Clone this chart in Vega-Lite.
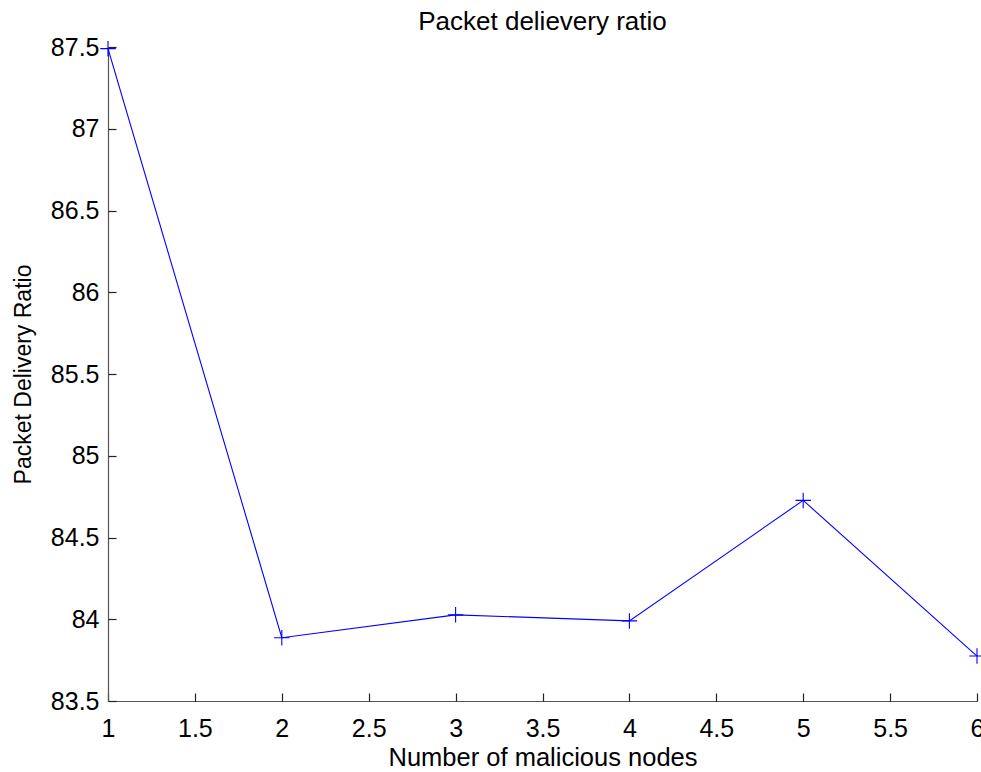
{
  "$schema": "https://vega.github.io/schema/vega-lite/v6.json",
  "autosize": "none",
  "width": 869,
  "height": 654,
  "padding": {"left": 108, "top": 47, "right": 4, "bottom": 71},
  "background": "white",
  "title": {
    "text": "Packet delievery ratio",
    "font": "Liberation Sans",
    "fontSize": 26,
    "fontWeight": "normal",
    "color": "black",
    "anchor": "middle",
    "offset": 0
  },
  "config": {
    "view": {"stroke": null},
    "axis": {
      "labelFont": "Liberation Sans",
      "titleFont": "Liberation Sans",
      "labelColor": "black",
      "titleColor": "black",
      "titleFontWeight": "normal",
      "domainColor": "#555555",
      "domainWidth": 1.2,
      "tickColor": "#222222",
      "tickWidth": 1.2,
      "grid": false
    }
  },
  "data": {
    "values": [
      {"nodes": 1, "pdr": 87.49},
      {"nodes": 2, "pdr": 83.887},
      {"nodes": 3, "pdr": 84.027},
      {"nodes": 4, "pdr": 83.99},
      {"nodes": 5, "pdr": 84.727},
      {"nodes": 6, "pdr": 83.775}
    ]
  },
  "resolve": {"axis": {"x": "independent", "y": "independent"}},
  "layer": [
    {
      "mark": {"type": "line", "color": "#0000ff", "strokeWidth": 1.1, "clip": false},
      "encoding": {
        "x": {
          "field": "nodes",
          "type": "quantitative",
          "scale": {"domain": [1, 6], "nice": false, "zero": false},
          "axis": {
            "orient": "bottom",
            "title": "Number of malicious nodes",
            "titleFontSize": 25.5,
            "labelFontSize": 25,
            "values": [1, 1.5, 2, 2.5, 3, 3.5, 4, 4.5, 5, 5.5, 6],
            "format": "~g",
            "ticks": false,
            "labelFlush": false,
            "labelOverlap": false,
            "labelPadding": 15,
            "titlePadding": 4
          }
        },
        "y": {
          "field": "pdr",
          "type": "quantitative",
          "scale": {"domain": [83.5, 87.5], "nice": false, "zero": false},
          "axis": {
            "orient": "left",
            "title": "Packet Delivery Ratio",
            "titleFontSize": 23,
            "labelFontSize": 25,
            "values": [83.5, 84, 84.5, 85, 85.5, 86, 86.5, 87, 87.5],
            "format": "~g",
            "ticks": false,
            "labelFlush": false,
            "labelOverlap": false,
            "labelPadding": 9,
            "titlePadding": 15
          }
        }
      }
    },
    {
      "mark": {
        "type": "point",
        "shape": "M-1,0L1,0M0,-1L0,1",
        "filled": false,
        "stroke": "#0000ff",
        "strokeWidth": 1.1,
        "size": 240,
        "opacity": 1,
        "clip": false
      },
      "encoding": {
        "x": {
          "field": "nodes",
          "type": "quantitative",
          "axis": {
            "orient": "bottom",
            "title": null,
            "labels": false,
            "domain": false,
            "ticks": true,
            "tickSize": 8,
            "offset": -8,
            "values": [1, 1.5, 2, 2.5, 3, 3.5, 4, 4.5, 5, 5.5, 6]
          }
        },
        "y": {
          "field": "pdr",
          "type": "quantitative",
          "axis": {
            "orient": "left",
            "title": null,
            "labels": false,
            "domain": false,
            "ticks": true,
            "tickSize": 8,
            "offset": -8,
            "values": [83.5, 84, 84.5, 85, 85.5, 86, 86.5, 87, 87.5]
          }
        }
      }
    }
  ]
}
